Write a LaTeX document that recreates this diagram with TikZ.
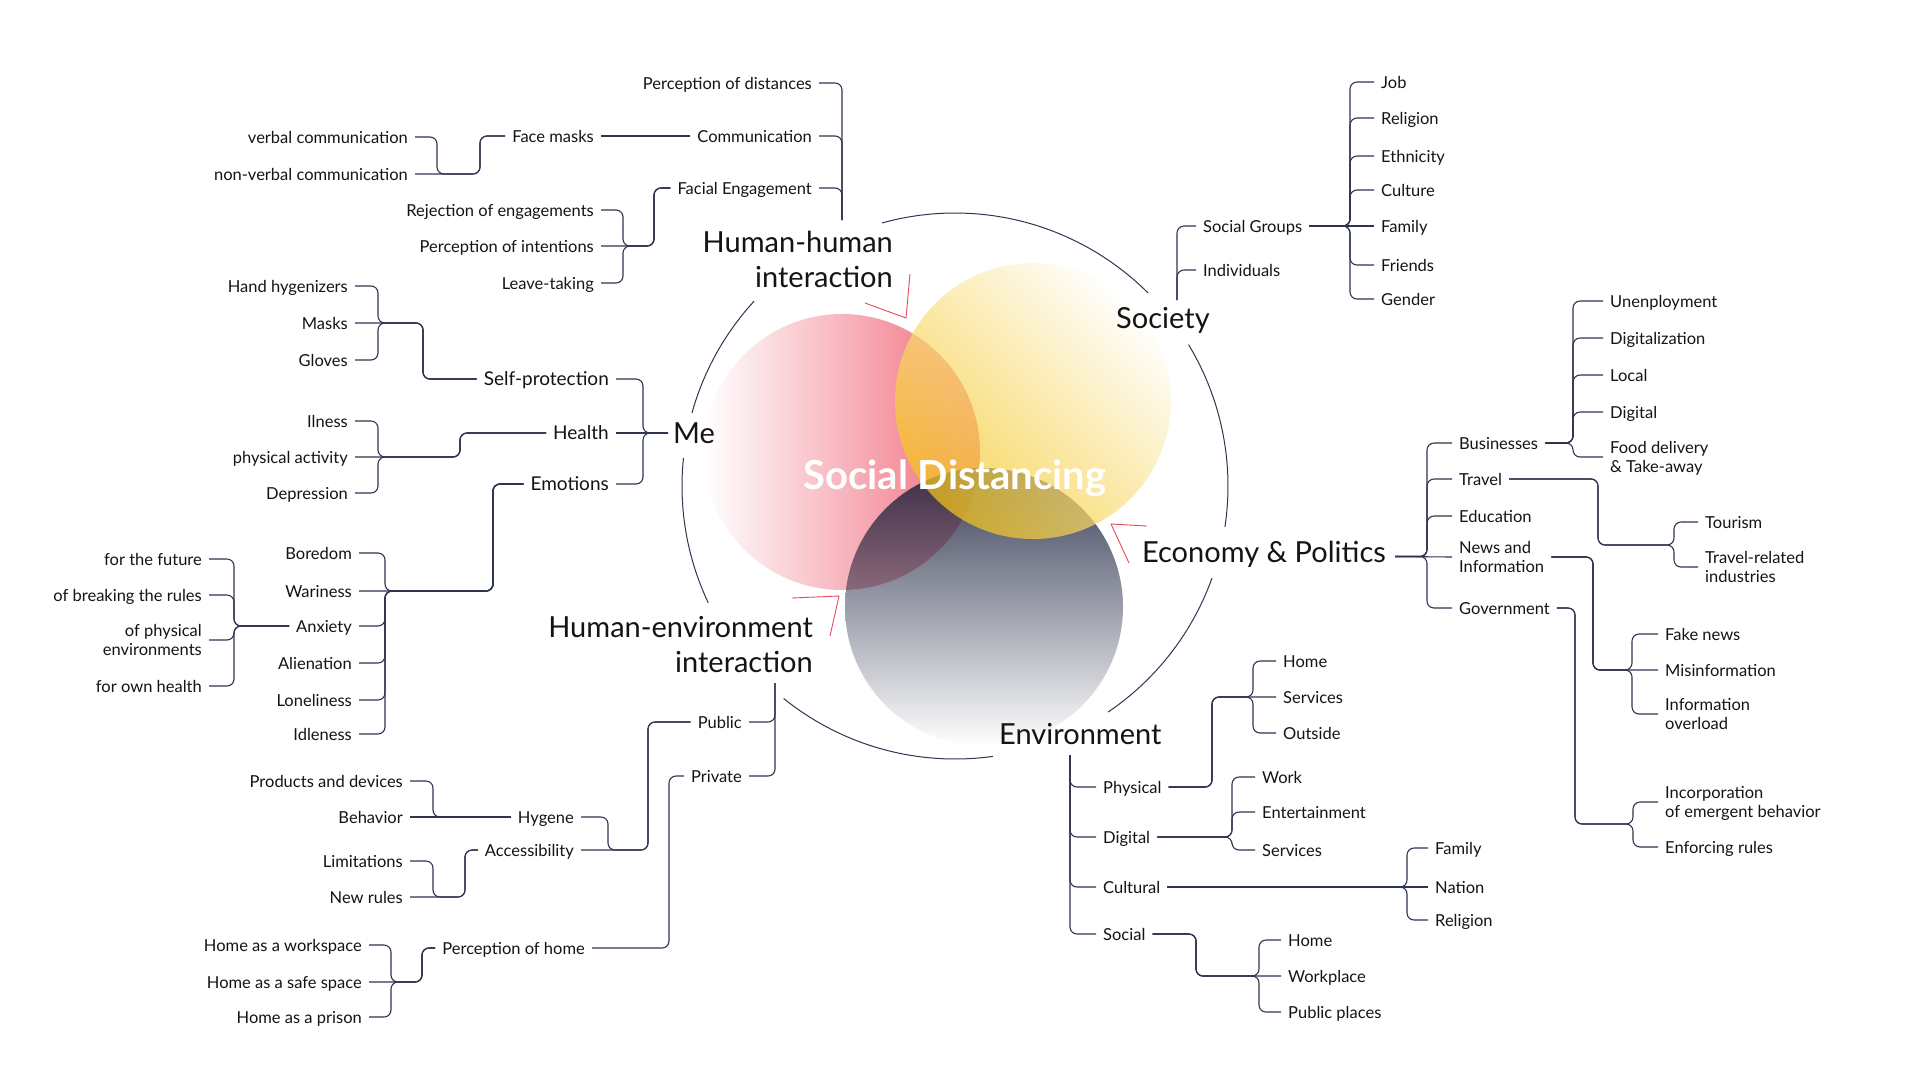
\documentclass[tikz,border=0pt]{standalone}
\usepackage{fontspec}
\setmainfont{Lato}
\usetikzlibrary{calc}
\definecolor{linec}{HTML}{2F3550}
\definecolor{txt}{HTML}{141414}
\definecolor{redc}{HTML}{EF6677}
\definecolor{redm}{HTML}{F7B6BE}
\definecolor{yelc}{HTML}{F5C518}
\definecolor{gray1}{HTML}{383E56}
\definecolor{gray2}{HTML}{868B9E}
\definecolor{plum1}{HTML}{3A2E47}
\definecolor{plum2}{HTML}{F0B0BA}
\definecolor{chev}{HTML}{E8495B}
\newcommand\fsml{\fontsize{16.5}{19}\selectfont}
\newcommand\fmid{\fontsize{19}{22}\selectfont}
\newcommand\fttl{\fontsize{29}{35}\selectfont}
\newcommand\fcen{\fontsize{40}{48}\selectfont\bfseries}
\newcommand\twol[2]{\begin{tabular}[b]{@{}l@{}}#1\\#2\end{tabular}}
\newcommand\twor[2]{\begin{tabular}[b]{@{}r@{}}#1\\#2\end{tabular}}
\tikzset{
  con/.style={draw=linec, line width=1.1pt, rounded corners=7pt},
  arcst/.style={draw=linec, line width=1pt},
  chevst/.style={draw=chev, line width=0.9pt},
  t/.style={text=txt, font=\fsml, inner xsep=7pt, inner ysep=0pt, text height=12pt, text depth=0pt},
  tm/.style={t, font=\fmid, text height=13.8pt},
  tt/.style={t, text height=31pt},
  ttl/.style={text=txt, font=\fttl, inner sep=0pt},
}
\begin{document}
\begin{tikzpicture}[x=1pt,y=-1pt]
\useasboundingbox (0,0) rectangle (1920,1080);
\fill[white] (0,0) rectangle (1920,1080);

% ---------- Venn ----------
\shade[left color=white, right color=redc, middle color=redm] (842,452) circle[radius=138];
\shade[top color=gray1, middle color=gray2, bottom color=white] (984,607) circle[radius=139];
\begin{scope}
  \clip (842,452) circle[radius=138];
  \shade[top color=plum1, bottom color=plum2] (984,607) circle[radius=139];
\end{scope}
\shade[top color=white, bottom color=yelc, shading angle=-45, opacity=0.72] (1033,401) circle[radius=138];

\node[font=\fcen, text=white, anchor=base] (sd) at (955,489) {Social Distancing};

% ---------- outer arcs ----------
\draw[arcst] plot[domain=-105.5:-45, samples=60] ({955+273*cos(\x)},{486+273*sin(\x)});
\draw[arcst] plot[domain=-31.2:8.6, samples=40] ({955+273*cos(\x)},{486+273*sin(\x)});
\draw[arcst] plot[domain=19.7:55.9, samples=40] ({955+273*cos(\x)},{486+273*sin(\x)});
\draw[arcst] plot[domain=82:128.9, samples=50] ({955+273*cos(\x)},{486+273*sin(\x)});
\draw[arcst] plot[domain=154.7:185.9, samples=40] ({955+273*cos(\x)},{486+273*sin(\x)});
\draw[arcst] plot[domain=195.5:222.6, samples=40] ({955+273*cos(\x)},{486+273*sin(\x)});

% red chevrons
\draw[chevst] (865,303) -- (906,318) -- (910,274);
\draw[chevst] (792,598) -- (839,596) -- (830,636);
\draw[chevst] (1147,526) -- (1111,524) -- (1129,563);

% ---------- titles ----------
\node[ttl, anchor=base east] (hh) at (893,287) {\twor{Human-human}{interaction}};
\node[ttl, anchor=base west] (soc) at (1116,328) {Society};
\node[ttl, anchor=base west, inner xsep=5pt, text height=21pt, text depth=0pt] (me) at (668,443.5) {Me};
\node[ttl, anchor=base east, inner xsep=9pt, text height=21pt, text depth=10pt] (ep) at (1395,562) {Economy \& Politics};
\node[ttl, anchor=base east] (he) at (813,672) {\twor{Human-environment}{interaction}};
\node[ttl, anchor=base west] (env) at (999,744) {Environment};
\coordinate (hhtop) at (842,220);
\coordinate (soctop) at (1177,300);
\coordinate (hebot) at (775,683);
\coordinate (envbot) at (1070,755);

% ---------- left nodes ----------
\node[t,anchor=east] (pod) at (819,83) {Perception of distances};
\node[t,anchor=east] (com) at (819,136) {Communication};
\node[t,anchor=east] (fe) at (819,188) {Facial Engagement};
\node[t,anchor=east] (fm) at (601,136) {Face masks};
\node[t,anchor=east] (vc) at (415,137) {verbal communication};
\node[t,anchor=east] (nvc) at (415,174) {non-verbal communication};
\node[t,anchor=east] (roe) at (601,210) {Rejection of engagements};
\node[t,anchor=east] (poi) at (601,246) {Perception of intentions};
\node[t,anchor=east] (lt) at (601,283) {Leave-taking};
\node[tm,anchor=east] (sp) at (616,379) {Self-protection};
\node[tm,anchor=east] (hl) at (616,433) {Health};
\node[tm,anchor=east] (em) at (616,484) {Emotions};
\node[t,anchor=east] (hh1) at (355,286) {Hand hygenizers};
\node[t,anchor=east] (msk) at (355,323) {Masks};
\node[t,anchor=east] (glv) at (355,360) {Gloves};
\node[t,anchor=east] (ill) at (355,421) {Ilness};
\node[t,anchor=east] (pa) at (355,457) {physical activity};
\node[t,anchor=east] (dep) at (355,493) {Depression};
\node[t,anchor=east] (bor) at (359,553) {Boredom};
\node[t,anchor=east] (war) at (359,591) {Wariness};
\node[t,anchor=east] (anx) at (359,626) {Anxiety};
\node[t,anchor=east] (ali) at (359,663) {Alienation};
\node[t,anchor=east] (lon) at (359,700) {Loneliness};
\node[t,anchor=east] (idl) at (359,734) {Idleness};
\node[t,anchor=east] (ftf) at (209,559) {for the future};
\node[t,anchor=east] (obr) at (209,595) {of breaking the rules};
\node[tt,anchor=east] (ope) at (209,640) {\twor{of physical}{environments}};
\node[t,anchor=east] (foh) at (209,686) {for own health};
\node[t,anchor=east] (pub) at (749,722) {Public};
\node[t,anchor=east] (prv) at (749,776) {Private};
\node[t,anchor=east] (hyg) at (581,817) {Hygene};
\node[t,anchor=east] (acc) at (581,850) {Accessibility};
\node[t,anchor=east] (pad) at (410,781) {Products and devices};
\node[t,anchor=east] (beh) at (410,817) {Behavior};
\node[t,anchor=east] (lim) at (410,861) {Limitations};
\node[t,anchor=east] (nr) at (410,897) {New rules};
\node[t,anchor=east] (poh) at (592,948) {Perception of home};
\node[t,anchor=east] (haw) at (369,945) {Home as a workspace};
\node[t,anchor=east] (has) at (369,982) {Home as a safe space};
\node[t,anchor=east] (hap) at (369,1017) {Home as a prison};

% ---------- right nodes ----------
\node[t,anchor=west] (sg) at (1196,226) {Social Groups};
\node[t,anchor=west] (ind) at (1196,270) {Individuals};
\node[t,anchor=west] (job) at (1374,82) {Job};
\node[t,anchor=west] (rel) at (1374,118) {Religion};
\node[t,anchor=west] (eth) at (1374,156) {Ethnicity};
\node[t,anchor=west] (cul) at (1374,190) {Culture};
\node[t,anchor=west] (fam) at (1374,226) {Family};
\node[t,anchor=west] (fri) at (1374,265) {Friends};
\node[t,anchor=west] (gen) at (1374,299) {Gender};
\node[t,anchor=west] (bus) at (1452,443) {Businesses};
\node[t,anchor=west] (trv) at (1452,479) {Travel};
\node[t,anchor=west] (edu) at (1452,516) {Education};
\node[tt,anchor=west] (nwi) at (1452,557) {\twol{News and}{Information}};
\node[t,anchor=west] (gov) at (1452,608) {Government};
\node[t,anchor=west] (unp) at (1603,301) {Unenployment};
\node[t,anchor=west] (dgz) at (1603,338) {Digitalization};
\node[t,anchor=west] (loc) at (1603,375) {Local};
\node[t,anchor=west] (dgt) at (1603,412) {Digital};
\node[tt,anchor=west] (fdd) at (1603,457) {\twol{Food delivery}{\& Take-away}};
\node[t,anchor=west] (tou) at (1698,522) {Tourism};
\node[tt,anchor=west] (trl) at (1698,567) {\twol{Travel-related}{industries}};
\node[t,anchor=west] (fkn) at (1658,634) {Fake news};
\node[t,anchor=west] (mis) at (1658,670) {Misinformation};
\node[tt,anchor=west] (ino) at (1658,714) {\twol{Information}{overload}};
\node[tt,anchor=west] (inc) at (1658,802) {\twol{Incorporation}{of emergent behavior}};
\node[t,anchor=west] (enf) at (1658,847) {Enforcing rules};
\node[t,anchor=west] (phy) at (1096,787) {Physical};
\node[t,anchor=west] (dig) at (1096,837) {Digital};
\node[t,anchor=west] (cul2) at (1096,887) {Cultural};
\node[t,anchor=west] (soc2) at (1096,934) {Social};
\node[t,anchor=west] (hm1) at (1276,661) {Home};
\node[t,anchor=west] (srv1) at (1276,697) {Services};
\node[t,anchor=west] (out) at (1276,733) {Outside};
\node[t,anchor=west] (wrk) at (1255,777) {Work};
\node[t,anchor=west] (ent) at (1255,812) {Entertainment};
\node[t,anchor=west] (srv2) at (1255,850) {Services};
\node[t,anchor=west] (fam2) at (1428,848) {Family};
\node[t,anchor=west] (nat) at (1428,887) {Nation};
\node[t,anchor=west] (rel2) at (1428,920) {Religion};
\node[t,anchor=west] (hm2) at (1281,940) {Home};
\node[t,anchor=west] (wpl) at (1281,976) {Workplace};
\node[t,anchor=west] (pbp) at (1281,1012) {Public places};

% ---------- connectors: left ----------
\foreach \nm in {pod,com,fe} \draw[con] (hhtop) |- (\nm.east);
\draw[con] (com.west) -- (fm.east);
\draw[con] (fm.west) -| (480,174) -- (nvc.east);
\draw[con] (fm.west) -| (480,174) -| (437,137) -- (vc.east);
\draw[con] (fe.west) -| (654,246) -- (poi.east);
\foreach \nm/\yv in {roe/210, lt/283} \draw[con] (fe.west) -| (654,246) -| (623,\yv) -- (\nm.east);
\draw[con] (me.west) -- (hl.east);
\foreach \nm/\yv in {sp/379, em/484} \draw[con] (me.west) -| (643,\yv) -- (\nm.east);
\draw[con] (sp.west) -| (423,323) -- (msk.east);
\foreach \nm/\yv in {hh1/286, glv/360} \draw[con] (sp.west) -| (423,323) -| (378,\yv) -- (\nm.east);
\draw[con] (hl.west) -| (460,457) -- (pa.east);
\foreach \nm/\yv in {ill/421, dep/493} \draw[con] (hl.west) -| (460,457) -| (378,\yv) -- (\nm.east);
\draw[con] (em.west) -| (493,591) -- (war.east);
\foreach \nm/\yv in {bor/553, anx/626, ali/663, lon/700, idl/734} \draw[con] (em.west) -| (493,591) -| (385,\yv) -- (\nm.east);
\foreach \nm/\yv in {ftf/559, obr/595, ope/640, foh/686} \draw[con] (anx.west) -| (234,\yv) -- (\nm.east);
\foreach \nm in {pub,prv} \draw[con] (hebot) |- (\nm.east);
\draw[con] (pub.west) -| (648,850) -- (acc.east);
\draw[con] (pub.west) -| (648,850) -| (608,817) -- (hyg.east);
\draw[con] (hyg.west) -- (beh.east);
\draw[con] (hyg.west) -| (433,781) -- (pad.east);
\draw[con] (acc.west) -| (465,897) -- (nr.east);
\draw[con] (acc.west) -| (465,897) -| (433,861) -- (lim.east);
\draw[con] (prv.west) -| (669,948) -- (poh.east);
\draw[con] (poh.west) -| (422,982) -- (has.east);
\foreach \nm/\yv in {haw/945, hap/1017} \draw[con] (poh.west) -| (422,982) -| (391,\yv) -- (\nm.east);

% ---------- connectors: right ----------
\foreach \nm in {sg,ind} \draw[con] (soctop) |- (\nm.west);
\draw[con] (sg.east) -- (fam.west);
\foreach \nm/\yv in {job/82, rel/118, eth/156, cul/190, fri/265, gen/299} \draw[con] (sg.east) -| (1350,\yv) -- (\nm.west);
\draw[con] (ep.east) -- (nwi.west);
\foreach \nm/\yv in {bus/443, trv/479, edu/516, gov/608} \draw[con] (ep.east) -| (1427,\yv) -- (\nm.west);
\foreach \nm/\yv in {unp/301, dgz/338, loc/375, dgt/412, fdd/457} \draw[con] (bus.east) -| (1573,\yv) -- (\nm.west);
\foreach \nm/\yv in {tou/522, trl/567} \draw[con] (trv.east) -| (1598,545) -| (1674,\yv) -- (\nm.west);
\draw[con] (nwi.east) -| (1593,670) -- (mis.west);
\foreach \nm/\yv in {fkn/634, ino/714} \draw[con] (nwi.east) -| (1593,670) -| (1632,\yv) -- (\nm.west);
\foreach \nm/\yv in {inc/802, enf/847} \draw[con] (gov.east) -| (1575,824) -| (1633,\yv) -- (\nm.west);
\foreach \nm in {phy,dig,cul2,soc2} \draw[con] (envbot) |- (\nm.west);
\draw[con] (phy.east) -| (1212,697) -- (srv1.west);
\foreach \nm/\yv in {hm1/661, out/733} \draw[con] (phy.east) -| (1212,697) -| (1253,\yv) -- (\nm.west);
\foreach \nm/\yv in {wrk/777, ent/812, srv2/850} \draw[con] (dig.east) -| (1232,\yv) -- (\nm.west);
\draw[con] (cul2.east) -- (nat.west);
\foreach \nm/\yv in {fam2/848, rel2/920} \draw[con] (cul2.east) -| (1407,\yv) -- (\nm.west);
\draw[con] (soc2.east) -| (1196,976) -- (wpl.west);
\foreach \nm/\yv in {hm2/940, pbp/1012} \draw[con] (soc2.east) -| (1196,976) -| (1259,\yv) -- (\nm.west);
\end{tikzpicture}
\end{document}
